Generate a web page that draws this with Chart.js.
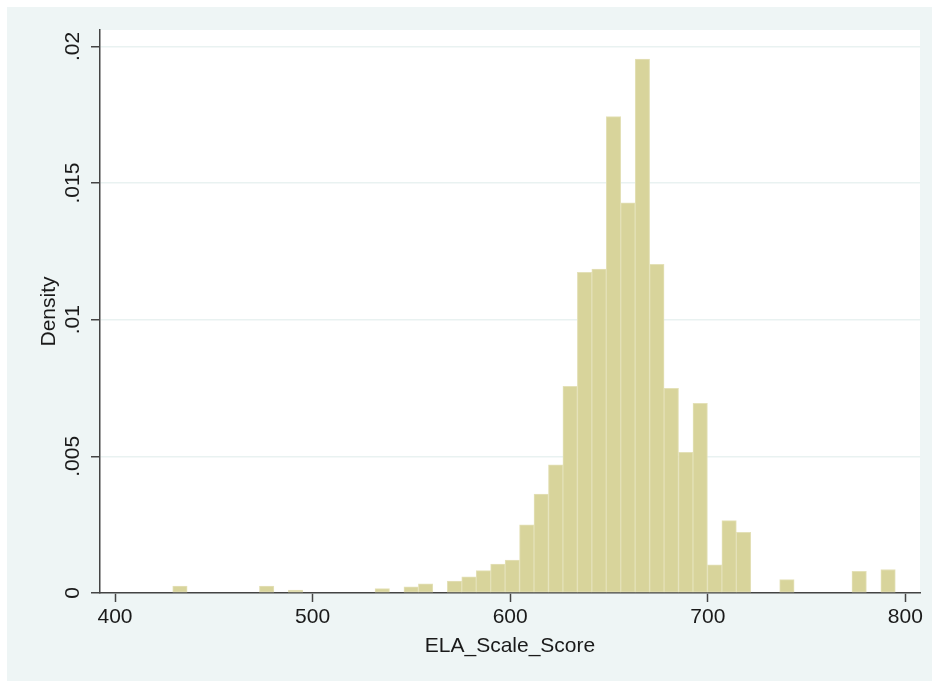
<!DOCTYPE html>
<html>
<head>
<meta charset="utf-8">
<script src="https://cdn.jsdelivr.net/npm/chart.js@4.4.0/dist/chart.umd.min.js"></script>
<style>
  body { margin: 0; background: #ffffff; }
  #wrap { position: absolute; left: 7px; top: 7px; width: 925px; height: 674px; background: #eef5f5; }
</style>
</head>
<body>
<div id="wrap"><canvas id="chart"></canvas></div>
<script>
// histogram bins (50 bins, Stata default)
const binStart = 429.2;
const binWidth = 7.314;
const density = [
    0.00025, 0, 0, 0, 0, 0, 0.00025, 0, 0.00011, 0,
    0, 0, 0, 0, 0.00016, 0, 0.00023, 0.00034, 0, 0.00044,
    0.00059, 0.00082, 0.00106, 0.0012, 0.00249, 0.00362, 0.00469, 0.00756, 0.01173, 0.01185,
    0.01743, 0.01428, 0.01954, 0.01203, 0.00749, 0.00515, 0.00694, 0.00103, 0.00265, 0.00222,
    0, 0, 0.00049, 0, 0, 0, 0, 0.00079, 0, 0.00086
];

const xTicks = [400, 500, 600, 700, 800];
const yTicks = [0, 0.005, 0.01, 0.015, 0.02];
const yTickLabels = ['0', '.005', '.01', '.015', '.02'];

const points = density.map((d, i) => ({ x: binStart + binWidth * (i + 0.5), y: d }));

const font = { family: '"Liberation Sans", Arial, sans-serif', size: 21 };
const axisColor = '#444444';
const textColor = '#1a1a1a';

const plotBackground = {
    id: 'plotBackground',
    beforeDraw(chart) {
        const { ctx, chartArea: a } = chart;
        ctx.save();
        ctx.fillStyle = '#ffffff';
        ctx.fillRect(a.left, a.top, a.right - a.left, a.bottom - a.top);
        ctx.restore();
    }
};

const hasValue = c => c.raw && c.raw.y > 0;

new Chart(document.getElementById('chart'), {
    type: 'bar',
    data: {
        datasets: [{
            data: points,
            backgroundColor: c => (hasValue(c) ? '#d8d49b' : 'rgba(0,0,0,0)'),
            borderColor: '#e4e1b8',
            borderWidth: c => (hasValue(c) ? 1 : 0),
            borderSkipped: false,
            barPercentage: 1,
            categoryPercentage: 1
        }]
    },
    options: {
        responsive: true,
        maintainAspectRatio: false,
        animation: false,
        layout: { padding: { top: 23, right: 12, left: 0, bottom: 0 } },
        plugins: { legend: { display: false }, tooltip: { enabled: false } },
        scales: {
            x: {
                type: 'linear',
                offset: false,
                min: 392.4,
                max: 807.4,
                afterBuildTicks: s => { s.ticks = xTicks.map(v => ({ value: v })); },
                afterFit: s => { s.height = 88; },
                grid: { offset: false, drawOnChartArea: false, tickLength: 9, tickColor: axisColor, tickWidth: 1.5 },
                border: { color: axisColor, width: 1.5 },
                ticks: { font: font, color: textColor, padding: 3, maxRotation: 0, autoSkip: false },
                title: { display: true, text: 'ELA_Scale_Score', font: font, color: textColor, padding: { top: 0, bottom: 22 } }
            },
            y: {
                min: 0,
                max: 0.0206,
                afterBuildTicks: s => { s.ticks = yTicks.map(v => ({ value: v })); },
                afterFit: s => { s.width = 93; },
                grid: { color: '#e9f2f1', lineWidth: 1.5, tickLength: 9, tickColor: axisColor, tickWidth: 1.5 },
                border: { color: axisColor, width: 1.5 },
                ticks: {
                    font: font, color: textColor, minRotation: 90, maxRotation: 90,
                    crossAlign: 'center', padding: -3, autoSkip: false,
                    callback: (v, i) => yTickLabels[i]
                },
                title: { display: true, text: 'Density', font: font, color: textColor, padding: { top: 30, bottom: 0 } }
            }
        }
    },
    plugins: [plotBackground]
});
</script>
</body>
</html>
